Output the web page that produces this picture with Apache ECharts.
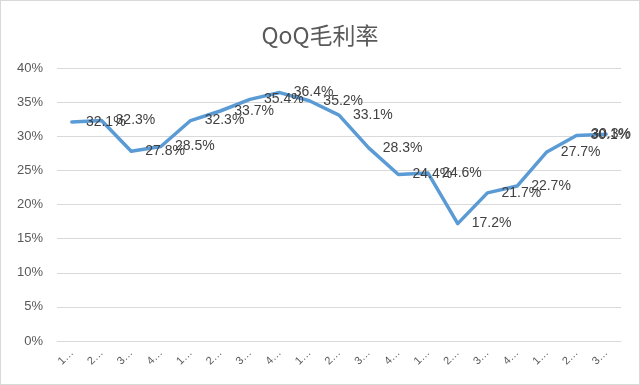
<!DOCTYPE html>
<html>
<head>
<meta charset="utf-8">
<script src="https://cdn.jsdelivr.net/npm/echarts@6/dist/echarts.min.js"></script>
<style>
html,body{margin:0;padding:0;background:#fff;}
#c{width:640px;height:385px;box-sizing:border-box;border:1px solid #d9d9d9;}
</style>
</head>
<body>
<div id="c"></div>
<script>
var titleText = "QoQ毛利率";
var categories = ["1…","2…","3…","4…","1…","2…","3…","4…","1…","2…","3…","4…","1…","2…","3…","4…","1…","2…","3…"];
var margin = [0.321,0.323,0.278,0.285,0.323,0.337,0.354,0.364,0.352,0.331,0.283,0.244,0.246,0.172,0.217,0.227,0.277,0.301,0.303];
var yTicks = [0,0.05,0.1,0.15,0.2,0.25,0.3,0.35,0.4];

var chart = echarts.init(document.getElementById('c'), null, {renderer:'canvas'});
var seriesData = margin.map(function(v,i){
  var item = {value:v};
  if (i === margin.length-1) item.label = {offset:[-29,0]};
  return item;
});
chart.setOption({
  animation:false,
  title:{text:titleText,left:'center',top:18,textStyle:{fontFamily:'"Noto Sans CJK SC","Noto Sans",sans-serif',fontSize:23,fontWeight:'normal',color:'#595959'}},
  grid:{left:56,right:18,top:67,bottom:43},
  xAxis:{type:'category',data:categories,boundaryGap:true,
    axisLine:{lineStyle:{color:'#d9d9d9'}},axisTick:{show:false},
    axisLabel:{rotate:45,fontSize:11,color:'#595959',margin:10,fontFamily:'"Liberation Sans",sans-serif'}},
  yAxis:{type:'value',min:0,max:0.4,interval:0.05,
    axisLine:{show:false},axisTick:{show:false},
    splitLine:{lineStyle:{color:'#d9d9d9',width:1}},
    axisLabel:{margin:14,fontSize:13,color:'#595959',fontFamily:'"Liberation Sans",sans-serif',
      formatter:function(v){return Math.round(v*100)+'%';}}},
  series:[{type:'line',data:seriesData,showSymbol:true,symbol:'circle',symbolSize:0.1,
    lineStyle:{color:'#5b9bd5',width:3.5,join:'round',cap:'round'},
    itemStyle:{color:'#5b9bd5'},
    label:{show:true,position:'right',distance:14,fontSize:14,color:'#404040',fontFamily:'"Liberation Sans",sans-serif',
      formatter:function(p){return (p.value*100).toFixed(1)+'%';}}}]
});
</script>
</body>
</html>
